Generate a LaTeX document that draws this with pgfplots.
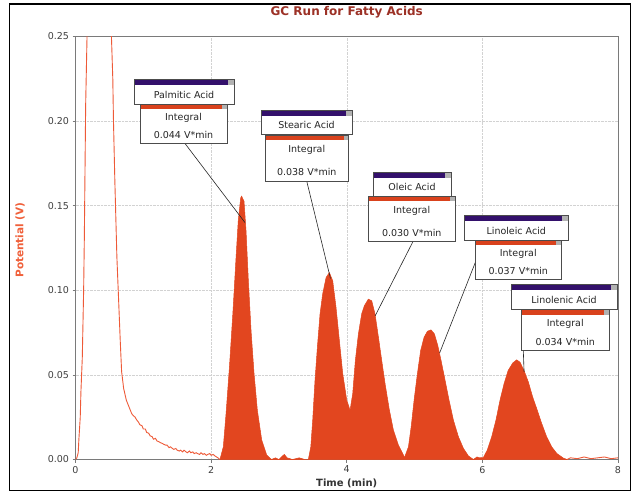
\documentclass[border=0pt]{standalone}
\usepackage{fontspec}
\setmainfont{DejaVu Sans}
\usepackage{pgfplots}
\pgfplotsset{compat=1.18}
\definecolor{peak}{HTML}{E2461F}
\definecolor{solv}{HTML}{EE5A38}
\definecolor{ttl}{HTML}{9C3126}
\definecolor{ylab}{HTML}{F0603A}
\definecolor{purp}{HTML}{33106B}
\definecolor{obar}{HTML}{D9421D}
\definecolor{frame}{HTML}{7A7A7A}
\newcommand{\bfnt}{\fontsize{9.5}{11}\selectfont}
\newcommand{\namebox}[5]{%
  \fill[white] (#1,#2) rectangle (#3,#4);
  \fill[purp] (#1,#2) rectangle (#3,#2+6);
  \fill[gray!60] (#3-6,#2) rectangle (#3,#2+6);
  \draw[black!70, line width=0.7pt] (#1,#2) rectangle (#3,#4);
  \node[font=\bfnt, text=black!85, inner sep=0pt] at ({(#1+#3)/2},{(#2+6+#4)/2}) {#5};}
\newcommand{\intbox}[5]{%
  \fill[white] (#1,#2) rectangle (#3,#4);
  \fill[obar] (#1,#2) rectangle (#3,#2+5);
  \fill[gray!60] (#3-5,#2) rectangle (#3,#2+5);
  \draw[black!70, line width=0.7pt] (#1,#2) rectangle (#3,#4);
  \node[font=\bfnt, text=black!85, inner sep=0pt] at ({(#1+#3)/2},#2+14) {Integral};
  \node[font=\bfnt, text=black!85, inner sep=0pt] at ({(#1+#3)/2},#4-9) {#5};}
\begin{document}
\begin{tikzpicture}[x=1pt,y=1pt]
\fill[white] (0,0) rectangle (634,493);
\draw[black, line width=1.8pt] (9.5,2.5) rectangle (630.5,489);
\begin{axis}[
  at={(75.5pt,33.5pt)}, anchor=south west, scale only axis,
  width=542.5pt, height=423pt,
  xmin=0, xmax=8, ymin=0, ymax=0.25,
  xtick={0,2,4,6,8}, ytick={0,0.05,0.1,0.15,0.2,0.25},
  tick pos=left, tick align=outside, major tick length=3pt,
  tick style={frame, line width=0.6pt},
  axis line style={frame, line width=0.8pt},
  grid=major, major grid style={densely dotted, gray!35, line width=0.5pt},
  /pgf/number format/assume math mode=true,
  yticklabel style={/pgf/number format/.cd, fixed, fixed zerofill, precision=2},
  ticklabel style={font=\fontsize{9.5}{11}\selectfont, text=black!75},
  title={GC Run for Fatty Acids},
  title style={at={(axis description cs:0.5,1.0437)}, anchor=center, font=\fontsize{12}{14}\selectfont\bfseries, text=ttl},
  xlabel={Time (min)},
  xlabel style={at={(axis description cs:0.5,-0.0556)}, anchor=center, font=\fontsize{10}{12}\selectfont\bfseries, text=black!80},
  ylabel={Potential (V)},
  ylabel style={at={(axis description cs:-0.1023,0.519)}, anchor=center, font=\fontsize{10.5}{12}\selectfont\bfseries, text=ylab},
]
% solvent peak and baseline drift
\addplot[solv, line width=0.9pt] coordinates {
(0.00,0.000) (0.02,0.001) (0.04,0.004) (0.05,0.012) (0.07,0.025) (0.08,0.040)
(0.10,0.060) (0.11,0.080) (0.12,0.100) (0.13,0.130) (0.14,0.170) (0.15,0.210)
(0.17,0.250) (0.19,0.300) (0.25,0.400) (0.35,0.420) (0.48,0.320) (0.53,0.250)
(0.55,0.225) (0.56,0.200) (0.58,0.165) (0.59,0.150) (0.61,0.120) (0.63,0.100)
(0.66,0.070) (0.68,0.052) (0.71,0.042) (0.75,0.035) (0.78,0.032) (0.80,0.030)
(0.83,0.027) (0.85,0.026) (0.88,0.025) (0.90,0.0235) (0.93,0.022) (0.95,0.0205)
(0.98,0.020) (1.00,0.018) (1.03,0.018) (1.05,0.016) (1.08,0.0155) (1.10,0.014)
(1.13,0.0135) (1.15,0.012) (1.18,0.0125) (1.20,0.011) (1.23,0.0105) (1.25,0.010)
(1.28,0.0095) (1.30,0.009) (1.33,0.0085) (1.35,0.0085) (1.38,0.007) (1.40,0.0075)
(1.43,0.0065) (1.45,0.006) (1.48,0.0065) (1.50,0.0055) (1.53,0.005) (1.55,0.0055)
(1.58,0.0045) (1.60,0.0055) (1.63,0.0045) (1.65,0.004) (1.68,0.005) (1.70,0.004)
(1.73,0.0045) (1.75,0.0035) (1.78,0.004) (1.80,0.0035) (1.83,0.003) (1.85,0.004)
(1.88,0.003) (1.90,0.0035) (1.93,0.0025) (1.95,0.003) (1.98,0.0035) (2.00,0.0025)
(2.03,0.003) (2.06,0.002) (2.10,0.001) (2.13,0.000)
};
% fatty acid peaks (filled)
\addplot[draw=peak, fill=peak, line width=0.5pt] coordinates {
(2.13,0.000) (2.18,0.0075) (2.22,0.027) (2.27,0.0546) (2.32,0.086) (2.367,0.119)
(2.40,0.141) (2.436,0.1546) (2.45,0.1556) (2.485,0.1526) (2.515,0.135) (2.549,0.1056)
(2.589,0.076) (2.633,0.0507) (2.682,0.029) (2.746,0.0115) (2.82,0.0026) (2.89,0.000)
(2.95,0.001) (3.00,0.000) (3.05,0.002) (3.08,0.003) (3.12,0.001) (3.20,0.000)
(3.30,0.001) (3.38,0.000) (3.434,0.000)
(3.47,0.0075) (3.498,0.0232) (3.532,0.0468) (3.567,0.0664) (3.606,0.086) (3.645,0.0978)
(3.695,0.1075) (3.744,0.1105) (3.793,0.1056) (3.842,0.0899) (3.891,0.0703) (3.941,0.0507)
(4.00,0.035) (4.049,0.0291)
(4.088,0.0389) (4.127,0.0585) (4.172,0.0742) (4.22,0.086) (4.26,0.0909) (4.319,0.0948)
(4.368,0.0938) (4.417,0.086) (4.467,0.0723) (4.516,0.0585) (4.565,0.0448) (4.629,0.0291)
(4.688,0.0174) (4.762,0.0085) (4.836,0.0026) (4.85,0.001)
(4.91,0.0075) (4.95,0.0193) (4.993,0.035) (5.042,0.0507) (5.09,0.0644) (5.14,0.0722)
(5.19,0.0758) (5.243,0.0766) (5.293,0.0742) (5.342,0.0674) (5.391,0.0585) (5.45,0.0468)
(5.509,0.035) (5.573,0.0232) (5.647,0.0134) (5.72,0.0066) (5.794,0.0021) (5.868,0.000)
(5.92,0.0015) (5.96,0.001)
(6.015,0.0012) (6.073,0.0056) (6.137,0.0134) (6.20,0.0232) (6.26,0.035) (6.32,0.0448)
(6.38,0.0526) (6.447,0.057) (6.506,0.0589) (6.555,0.0575) (6.614,0.0526) (6.678,0.0458)
(6.742,0.0369) (6.81,0.0291) (6.875,0.0213) (6.948,0.0134) (7.022,0.0075) (7.097,0.0036)
(7.195,0.0008) (7.25,0.000)
} \closedcycle;
% baseline after last peak
\addplot[solv, line width=0.9pt] coordinates {
(7.25,0.000) (7.30,0.001) (7.40,0.0005) (7.50,0.0015) (7.60,0.0005) (7.70,0.001)
(7.80,0.0015) (7.90,0.0005) (8.00,0.001)
};
\coordinate (p1) at (axis cs:2.50,0.140);
\coordinate (p2) at (axis cs:3.76,0.107);
\coordinate (p3) at (axis cs:4.42,0.085);
\coordinate (p4) at (axis cs:5.37,0.063);
\coordinate (p5) at (axis cs:6.615,0.0516);
\end{axis}
\begin{scope}[shift={(0,493)}, y=-1pt]
  \draw[black!85, line width=0.6pt] (185,143.5) -- (p1);
  \draw[black!85, line width=0.6pt] (306.7,181) -- (p2);
  \draw[black!85, line width=0.6pt] (413,241.5) -- (p3);
  \draw[black!85, line width=0.6pt] (475.5,262) -- (p4);
  \draw[black!85, line width=0.6pt] (523.3,350.5) -- (p5);
  \namebox{134}{79}{234}{104}{Palmitic Acid}
  \intbox{140}{104}{227}{143.5}{0.044 V*min}
  \namebox{261}{110}{352}{134.5}{Stearic Acid}
  \intbox{265}{135.5}{348.5}{181}{0.038 V*min}
  \namebox{373}{172.5}{451}{196}{Oleic Acid}
  \intbox{368.5}{196.5}{455}{241.5}{0.030 V*min}
  \namebox{464.5}{215}{568}{240}{Linoleic  Acid}
  \intbox{475.5}{240}{561}{279.5}{0.037 V*min}
  \namebox{511}{284}{617}{309.5}{Linolenic Acid}
  \intbox{521.5}{309.5}{609}{350.5}{0.034 V*min}
\end{scope}
\end{tikzpicture}
\end{document}
